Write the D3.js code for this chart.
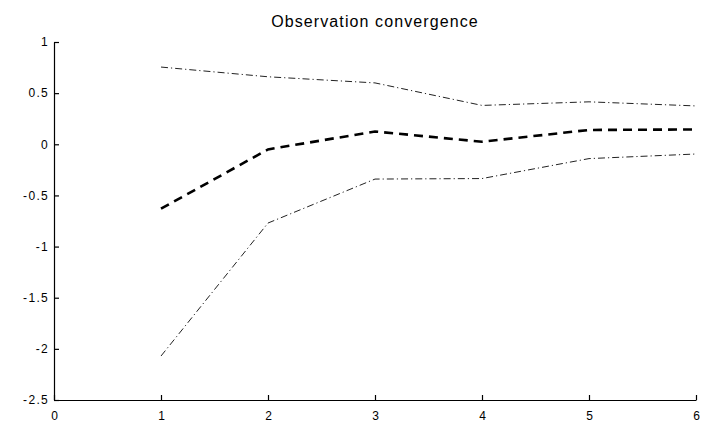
<!DOCTYPE html>
<html>
<head>
<meta charset="utf-8">
<script src="https://cdn.jsdelivr.net/npm/d3@7"></script>
<style>
  html, body { margin: 0; padding: 0; background: #fff; }
  svg { display: block; }
  text { font-family: "Liberation Sans", Arial, Helvetica, sans-serif; fill: #000; }
</style>
</head>
<body>
<svg id="chart" width="702" height="423"></svg>
<script>
// Step index and the three estimated series
const steps = [1, 2, 3, 4, 5, 6];
const upperBound = [0.755, 0.66, 0.60, 0.38, 0.415, 0.375];
const estimate   = [-0.63, -0.05, 0.125, 0.025, 0.14, 0.145];
const lowerBound = [-2.07, -0.77, -0.34, -0.335, -0.14, -0.095];

const xTicks = [0, 1, 2, 3, 4, 5, 6];
const yTicks = [1, 0.5, 0, -0.5, -1, -1.5, -2, -2.5];
const title = "Observation convergence";

const svg = d3.select("#chart");
const margin = { left: 54, right: 6, top: 42, bottom: 23 };
const W = 702, H = 423;

const x = d3.scaleLinear().domain([0, 6]).range([margin.left, W - margin.right]);
const y = d3.scaleLinear().domain([-2.5, 1]).range([H - margin.bottom, margin.top]);

// Axes with inward ticks
const yAxis = d3.axisLeft(y).tickValues(yTicks).tickSizeInner(-5).tickSizeOuter(0)
  .tickPadding(5).tickFormat(d => String(d));
const xAxis = d3.axisBottom(x).tickValues(xTicks).tickSizeInner(-5).tickSizeOuter(0)
  .tickPadding(11).tickFormat(d => String(d));

const gy = svg.append("g").attr("transform", `translate(${margin.left},0)`).call(yAxis);
const gx = svg.append("g").attr("transform", `translate(0,${H - margin.bottom})`).call(xAxis);

[gx, gy].forEach(g => {
  g.select(".domain").attr("stroke", "#000").attr("stroke-width", 1.2);
  g.selectAll(".tick line").attr("stroke", "#000").attr("stroke-width", 1.2);
  g.selectAll(".tick text").attr("font-size", 12).attr("fill", "#222")
    .attr("letter-spacing", "1.3px")
    .attr("font-family", "Liberation Sans, Arial, sans-serif");
});
gy.selectAll(".tick line").attr("x1", 0).attr("x2", 5);
gx.selectAll(".tick line").attr("y1", 0).attr("y2", -5);
// nudge x labels so the trailing letter-spacing does not offset centring
gx.selectAll(".tick text").attr("dx", "0.65px");

// Title
svg.append("text")
  .attr("x", (x(0) + x(6)) / 2)
  .attr("y", 27)
  .attr("text-anchor", "middle")
  .attr("font-size", 16)
  .attr("letter-spacing", "1.1px")
  .attr("fill", "#222")
  .text(title);

const line = d3.line().x(d => x(d[0])).y(d => y(d[1]));
const zipSeries = vals => steps.map((s, i) => [s, vals[i]]);

// Confidence bounds (dash-dot) and the estimate (thick dashed)
svg.append("path").datum(zipSeries(upperBound))
  .attr("d", line).attr("fill", "none")
  .attr("stroke", "#222").attr("stroke-width", 1)
  .attr("stroke-dasharray", "7,3,1.2,3");

svg.append("path").datum(zipSeries(lowerBound))
  .attr("d", line).attr("fill", "none")
  .attr("stroke", "#222").attr("stroke-width", 1)
  .attr("stroke-dasharray", "7,3,1.2,3");

svg.append("path").datum(zipSeries(estimate))
  .attr("d", line).attr("fill", "none")
  .attr("stroke", "#000").attr("stroke-width", 2.6)
  .attr("stroke-dasharray", "9,6");
</script>
</body>
</html>
